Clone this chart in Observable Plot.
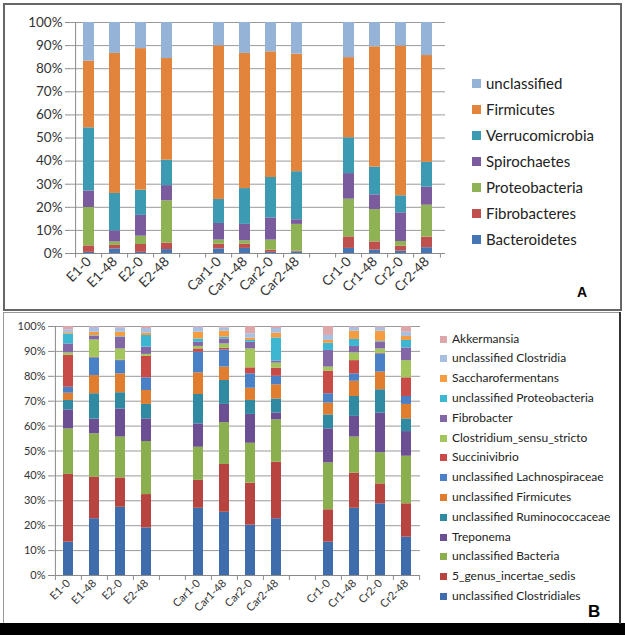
<!DOCTYPE html>
<html><head><meta charset="utf-8">
<script src="https://cdn.jsdelivr.net/npm/d3@7"></script>
<script src="https://cdn.jsdelivr.net/npm/@observablehq/plot@0.6"></script>
<style>
body{margin:0;background:#fff;font-family:Lato,"Open Sans",sans-serif}
#fig{position:relative;width:625px;height:635px;overflow:hidden;background:#fff}
.box{position:absolute;box-sizing:border-box}
.plot{position:absolute}
.leg{position:absolute;white-space:nowrap;color:#222}
.sw{position:absolute}
.tag{position:absolute;font-weight:bold;color:#000;font-family:"Liberation Sans",Arial,sans-serif}
</style></head><body><div id="fig"></div>
<script>
// ---------- data ----------
const samples = ["E1-0","E1-48","E2-0","E2-48","Car1-0","Car1-48","Car2-0","Car2-48","Cr1-0","Cr1-48","Cr2-0","Cr2-48"];

// Panel A (phyla), bottom -> top
const phylaA = ["Bacteroidetes","Fibrobacteres","Proteobacteria","Spirochaetes","Verrucomicrobia","Firmicutes","unclassified"];
const colorsA = ["#4675B4","#C0504D","#8FB254","#7A5C9E","#3C9BB2","#E3843C","#95B3D7"];
const Bacteroidetes   = [0.5, 2.0, 0.5, 1.7, 2.0, 2.2, 0.5, 0.7, 2.2, 1.5, 1.0, 2.5];
const Fibrobacteres   = [2.8, 1.5, 3.4, 2.8, 2.0, 1.8, 0.9, 0.3, 5.0, 3.5, 2.2, 4.6];
const Proteobacteria  = [16.6, 1.5, 3.6, 18.3, 1.8, 1.5, 4.4, 11.6, 16.3, 14.0, 2.0, 13.8];
const Spirochaetes    = [7.2, 4.8, 9.0, 6.6, 7.2, 7.1, 9.6, 2.0, 11.1, 6.4, 12.4, 7.8];
const Verrucomicrobia = [27.3, 16.2, 10.9, 11.0, 10.4, 15.5, 17.5, 20.8, 15.5, 12.0, 7.4, 10.8];
const Firmicutes      = [28.9, 60.6, 61.3, 44.0, 66.5, 58.5, 54.4, 50.9, 34.7, 52.1, 64.8, 46.2];
const unclassified    = [16.7, 13.4, 11.3, 15.6, 10.1, 13.4, 12.7, 13.7, 15.2, 10.5, 10.2, 14.3];
const valuesA = [Bacteroidetes, Fibrobacteres, Proteobacteria, Spirochaetes, Verrucomicrobia, Firmicutes, unclassified];

// Panel B (genera), bottom -> top
const generaB = ["unclassified Clostridiales","5_genus_incertae_sedis","unclassified Bacteria","Treponema","unclassified Ruminococcaceae","unclassified Firmicutes","unclassified Lachnospiraceae","Succinivibrio","Clostridium_sensu_stricto","Fibrobacter","unclassified Proteobacteria","Saccharofermentans","unclassified Clostridia","Akkermansia"];
const colorsB = ["#3F6CAB","#B8443F","#8BAE4E","#6B4F92","#2F8AA2","#E07D2E","#4A80C6","#C94B47","#A2C55C","#8366A6","#3DB6D2","#F59B40","#A9BFE2","#DDA7A9"];
const uClostridiales = [13.4, 22.8, 27.4, 19.1, 27.0, 25.4, 20.2, 22.8, 13.4, 27.0, 28.8, 15.4];
const genus5         = [27.2, 16.7, 11.8, 13.4, 11.2, 19.2, 16.9, 22.7, 13.0, 14.1, 8.0, 13.4];
const uBacteria      = [18.3, 17.4, 16.4, 21.3, 13.3, 16.8, 16.0, 17.0, 18.8, 14.5, 12.5, 19.1];
const Treponema      = [7.6, 5.9, 11.3, 9.1, 9.4, 7.3, 11.6, 2.8, 13.7, 8.3, 15.9, 9.9];
const uRumino        = [3.8, 10.2, 6.5, 5.8, 11.8, 9.6, 5.6, 5.6, 5.6, 8.0, 9.4, 5.1];
const uFirmicutes    = [2.9, 7.3, 7.6, 5.6, 8.7, 5.4, 4.9, 5.7, 4.7, 6.1, 7.1, 5.8];
const uLachno        = [2.4, 7.1, 5.3, 5.1, 8.3, 6.9, 5.8, 3.4, 3.8, 3.0, 7.3, 3.2];
const Succinivibrio  = [12.8, 0.2, 0.2, 8.6, 1.3, 0.7, 2.4, 3.3, 9.1, 5.3, 0.2, 7.5];
const ClostridiumSS  = [1.0, 7.0, 4.5, 0.8, 1.0, 1.7, 7.6, 2.0, 1.6, 3.1, 1.8, 6.9];
const Fibrobacter    = [3.6, 1.5, 4.7, 2.9, 1.7, 2.0, 2.7, 0.8, 6.7, 2.6, 2.7, 5.1];
const uProteo        = [4.0, 0.2, 0.2, 4.7, 1.3, 0.7, 0.7, 9.3, 2.9, 2.8, 0.3, 3.0];
const Saccharo       = [0.5, 1.4, 1.8, 0.9, 2.7, 2.4, 0.9, 1.9, 1.1, 3.3, 4.1, 1.6];
const uClostridia    = [1.2, 1.9, 1.8, 1.9, 1.9, 1.4, 1.8, 1.9, 2.0, 1.5, 1.5, 1.7];
const Akkermansia    = [1.3, 0.4, 0.5, 0.8, 0.4, 0.5, 2.9, 0.8, 3.6, 0.4, 0.4, 2.3];
const valuesB = [uClostridiales, genus5, uBacteria, Treponema, uRumino, uFirmicutes, uLachno, Succinivibrio, ClostridiumSS, Fibrobacter, uProteo, Saccharo, uClostridia, Akkermansia];

const yTicks = [0,10,20,30,40,50,60,70,80,90,100];

// x slots with empty gaps between groups
const slots = [...samples.slice(0,4), "gap1", ...samples.slice(4,8), "gap2", ...samples.slice(8)];

function rows(series, values) {
  const out = [];
  samples.forEach((s, i) => series.forEach((k, j) => out.push({sample: s, series: k, value: values[j][i]})));
  return out;
}

function chart({series, colors, values, width, height, ml, mr, mt, mb, pad, fs, tickFs}) {
  const step = (width - ml - mr) / slots.length;
  return Plot.plot({
    width, height, marginLeft: ml, marginRight: mr, marginTop: mt, marginBottom: mb,
    style: {fontFamily: "Lato, 'Open Sans', sans-serif", fontSize: fs + "px", color: "#333", background: "transparent"},
    x: {domain: slots, paddingInner: pad, paddingOuter: pad / 2, label: null},
    y: {domain: [0, 100], label: null},
    color: {domain: series, range: colors},
    marks: [
      Plot.ruleY(yTicks.filter(d => d > 0), {stroke: "#9a9a9a", strokeWidth: 1}),
      Plot.barY(rows(series, values), {x: "sample", y: "value", fill: "series", order: null}),
      Plot.ruleY([0], {stroke: "#8a8a8a"}),
      Plot.ruleX([slots[0]], {x: d => d, dx: -step / 2, y1: 0, y2: 100, stroke: "#8a8a8a"}),
      Plot.ruleX(slots, {x: d => d, dx: -step / 2, y1: 0, y2: -2, stroke: "#8a8a8a"}),
      Plot.ruleX([slots[slots.length - 1]], {x: d => d, dx: step / 2, y1: 0, y2: -2, stroke: "#8a8a8a"}),
      Plot.axisY({ticks: yTicks, tickFormat: d => d + "%", tickSize: 5, tickPadding: 3, stroke: "#8a8a8a", fontSize: tickFs}),
      Plot.axisX({tickSize: 0, tickRotate: -45, tickPadding: 6, tickFormat: d => d.startsWith("gap") ? "" : d, fontSize: tickFs})
    ]
  });
}

const fig = document.getElementById("fig");
function addBox(left, top, w, h, border) {
  const d = document.createElement("div");
  d.className = "box";
  Object.assign(d.style, {left: left + "px", top: top + "px", width: w + "px", height: h + "px", border});
  fig.appendChild(d);
  return d;
}

// Panel frames
addBox(3, 3, 619, 308, "2px solid #666");
addBox(3, 312, 617, 312, "1px solid #999");
const strip = addBox(0, 623, 625, 12, "none"); strip.style.background = "#000";
const edge = addBox(619, 312, 2, 312, "none"); edge.style.background = "#333";

// Panel A chart
const a = chart({series: phylaA, colors: colorsA, values: valuesA, width: 460, height: 305,
  ml: 70, mr: 15, mt: 22, mb: 52, pad: 0.58, fs: 13, tickFs: 13.5});
a.classList.add("plot"); a.style.left = "0px"; a.style.top = "0px";
fig.appendChild(a);

// Panel B chart
const b = chart({series: generaB, colors: colorsB, values: valuesB, width: 430, height: 312,
  ml: 53, mr: 10, mt: 13, mb: 50, pad: 0.62, fs: 11, tickFs: 11});
b.classList.add("plot"); b.style.left = "0px"; b.style.top = "313px";
fig.appendChild(b);

// Legends (top of stack first)
function legend(series, colors, x, y0, dy, sw, fs) {
  const n = series.length;
  for (let i = 0; i < n; i++) {
    const k = n - 1 - i;
    const cy = y0 + i * dy;
    const s = document.createElement("div");
    s.className = "sw";
    Object.assign(s.style, {left: x + "px", top: (cy - sw / 2) + "px", width: sw + "px", height: sw + "px", background: colors[k]});
    fig.appendChild(s);
    const t = document.createElement("div");
    t.className = "leg";
    t.textContent = series[k];
    Object.assign(t.style, {left: (x + sw + 5) + "px", top: (cy - fs * 0.62) + "px", fontSize: fs + "px", lineHeight: (fs * 1.2) + "px"});
    fig.appendChild(t);
  }
}
legend(phylaA, colorsA, 472, 83, 26, 9, 15);
legend(generaB, colorsB, 440, 339, 19.8, 7, 12);

// Panel tags
const tA = document.createElement("div"); tA.className = "tag"; tA.textContent = "A";
Object.assign(tA.style, {left: "577px", top: "284px", fontSize: "14px"}); fig.appendChild(tA);
const tB = document.createElement("div"); tB.className = "tag"; tB.textContent = "B";
Object.assign(tB.style, {left: "588px", top: "602px", fontSize: "17px"}); fig.appendChild(tB);
</script></body></html>
